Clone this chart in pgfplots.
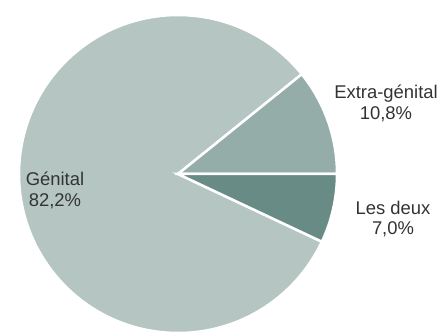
\documentclass[border=0pt]{standalone}
\usepackage{fontspec}
\setmainfont{Liberation Sans}
\usepackage{pgfplots}
\pgfplotsset{compat=1.18}
\definecolor{cGen}{HTML}{B5C6C2}
\definecolor{cExt}{HTML}{95ADA8}
\definecolor{cDeux}{HTML}{688B86}
\definecolor{txt}{HTML}{333333}
\begin{document}
\begin{tikzpicture}
\begin{axis}[
  width=443bp, height=336bp, scale only axis,
  xmin=0, xmax=443, ymin=0, ymax=336,
  hide axis, clip=false]
% shares (percent)
\def\pGen{82.2}
\def\pExt{10.8}
\def\pDeux{7.0}
\pgfmathsetmacro{\aExt}{\pExt*3.6}
\pgfmathsetmacro{\aDeux}{\pDeux*3.6}
\pgfmathsetmacro{\aGenEnd}{360-\aDeux}
\fill[cGen, draw=white, line width=2.5bp, line join=miter]
  (axis cs:178,162) -- ++(\aExt:159bp) arc[start angle=\aExt, end angle=\aGenEnd, radius=159bp] -- cycle;
\fill[cExt, draw=white, line width=2.5bp]
  (axis cs:178,162) -- ++(0:159bp) arc[start angle=0, end angle=\aExt, radius=159bp] -- cycle;
\fill[cDeux, draw=white, line width=2.5bp]
  (axis cs:178,162) -- ++(-\aDeux:159bp) arc[start angle=-\aDeux, end angle=0, radius=159bp] -- cycle;
\node[txt, align=center, font=\fontsize{18.5}{21}\selectfont] at (axis cs:55,146) {Génital\\82,2\%};
\node[txt, align=center, font=\fontsize{18.5}{21}\selectfont] at (axis cs:386,233) {Extra-génital\\10,8\%};
\node[txt, align=center, font=\fontsize{18.5}{21}\selectfont] at (axis cs:393,117) {Les deux\\7,0\%};
\end{axis}
\pgfresetboundingbox
\useasboundingbox (0,0) rectangle (443bp,336bp);
\end{tikzpicture}
\end{document}
